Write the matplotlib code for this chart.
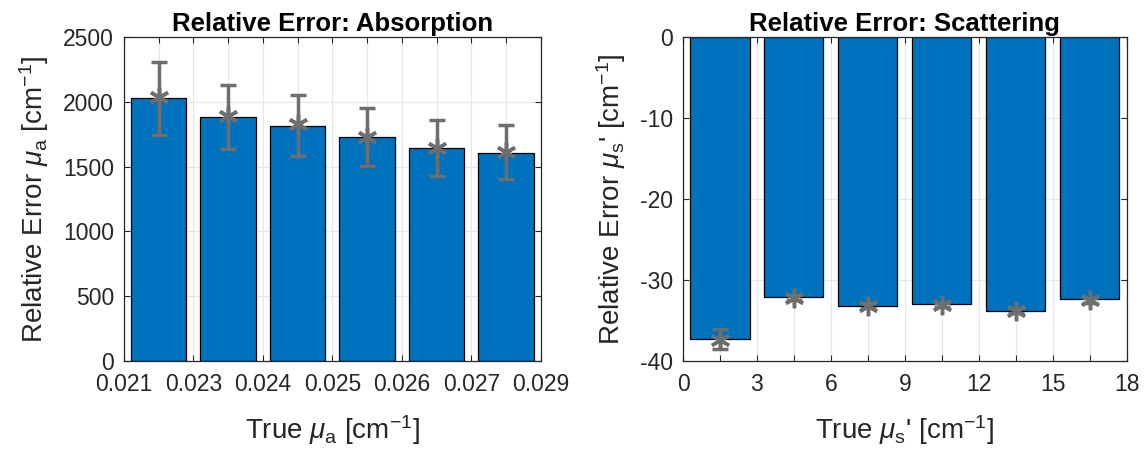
import numpy as np
import matplotlib.pyplot as plt
from matplotlib.ticker import FixedLocator

plt.rcParams['font.family'] = ['Liberation Sans', 'DejaVu Sans']
plt.rcParams['mathtext.fontset'] = 'custom'
plt.rcParams['mathtext.rm'] = 'Liberation Sans'
plt.rcParams['mathtext.it'] = 'Liberation Sans:italic'
plt.rcParams['axes.unicode_minus'] = False

# absorption panel
mua_edges = ['0.021', '0.023', '0.024', '0.025', '0.026', '0.027', '0.029']
mua_err_mean = [2031, 1882, 1815, 1730, 1646, 1607]
mua_star = [2036, 1890, 1828, 1730, 1645, 1612]
mua_err_lo = [1745, 1632, 1581, 1505, 1426, 1401]
mua_err_hi = [2309, 2132, 2055, 1950, 1860, 1818]

# scattering panel
mus_ticks = [0, 3, 6, 9, 12, 15, 18]
mus_centers = [1.5, 4.5, 7.5, 10.5, 13.5, 16.5]
mus_err_mean = [-37.3, -32.1, -33.2, -33.0, -33.8, -32.4]
mus_star = [-37.4, -32.2, -33.2, -33.1, -33.8, -32.5]
mus_err_lo = [-38.6, -32.5, -33.5, -33.4, -34.1, -32.8]
mus_err_hi = [-36.1, -31.9, -32.9, -32.8, -33.5, -32.2]

bar_col = '#0072BD'
err_col = '#6E6E6E'
txt_col = '#262626'
asterisk = (6, 2, 0)

fig = plt.figure(figsize=(11.46, 4.51), dpi=100)
ax1 = fig.add_axes([0.108, 0.2, 0.364, 0.718])
ax2 = fig.add_axes([0.596, 0.2, 0.387, 0.718])


def style(ax, major, minor):
    ax.xaxis.set_major_locator(FixedLocator(major))
    ax.xaxis.set_minor_locator(FixedLocator(minor))
    ax.grid(True, which='both', axis='x', color='#E6E6E6', lw=0.8, zorder=0)
    ax.grid(True, which='major', axis='y', color='#E6E6E6', lw=0.8, zorder=0)
    ax.set_axisbelow(True)
    ax.tick_params(which='both', direction='in', top=True, right=True,
                   labelsize=16.5, colors=txt_col, length=4, width=0.8)
    ax.tick_params(axis='x', which='major', pad=9)
    ax.tick_params(axis='y', which='major', pad=7)
    ax.tick_params(which='minor', labelbottom=False)
    for s in ax.spines.values():
        s.set_color(txt_col)
        s.set_linewidth(0.9)


# left
pos = np.arange(1, 7)
err1 = [np.array(mua_star) - np.array(mua_err_lo), np.array(mua_err_hi) - np.array(mua_star)]
ax1.bar(pos, mua_err_mean, width=0.8, color=bar_col, edgecolor='black', lw=0.9, zorder=2)
ax1.errorbar(pos, mua_star, yerr=err1, fmt='none', ecolor=err_col,
             elinewidth=2.5, capsize=6, capthick=2.5, zorder=3)
ax1.plot(pos, mua_star, ls='none', marker=asterisk, color=err_col, ms=14, mew=2.5, zorder=4)
ax1.set_xlim(0.5, 6.5)
ax1.set_ylim(0, 2500)
ax1.set_yticks([0, 500, 1000, 1500, 2000, 2500])
style(ax1, np.arange(0.5, 7.0, 1.0), pos)
ax1.set_xticklabels(mua_edges)
ax1.set_title('Relative Error: Absorption', fontsize=18.5, fontweight='bold', pad=4)
ax1.set_ylabel(r'Relative Error $\mu_{\rm a}$ [cm$^{-1}$]', fontsize=20, color=txt_col, labelpad=9)
ax1.set_xlabel(r'True $\mu_{\rm a}$ [cm$^{-1}$]', fontsize=20, color=txt_col, labelpad=12)

# right
err2 = [np.array(mus_star) - np.array(mus_err_lo), np.array(mus_err_hi) - np.array(mus_star)]
ax2.bar(mus_centers, mus_err_mean, width=2.4, color=bar_col, edgecolor='black', lw=0.9, zorder=2)
ax2.errorbar(mus_centers, mus_star, yerr=err2, fmt='none', ecolor=err_col,
             elinewidth=2.5, capsize=6, capthick=2.5, zorder=3)
ax2.plot(mus_centers, mus_star, ls='none', marker=asterisk, color=err_col, ms=14, mew=2.5, zorder=4)
ax2.set_xlim(0, 18)
ax2.set_ylim(-40, 0)
ax2.set_yticks([-40, -30, -20, -10, 0])
style(ax2, mus_ticks, mus_centers)
ax2.set_xticklabels([str(t) for t in mus_ticks])
ax2.set_title('Relative Error: Scattering', fontsize=18.5, fontweight='bold', pad=4)
ax2.set_ylabel(r"Relative Error $\mu_{\rm s}$' [cm$^{-1}$]", fontsize=20, color=txt_col, labelpad=9)
ax2.set_xlabel(r"True $\mu_{\rm s}$' [cm$^{-1}$]", fontsize=20, color=txt_col, labelpad=12)

fig.savefig('out.png', dpi=100)
